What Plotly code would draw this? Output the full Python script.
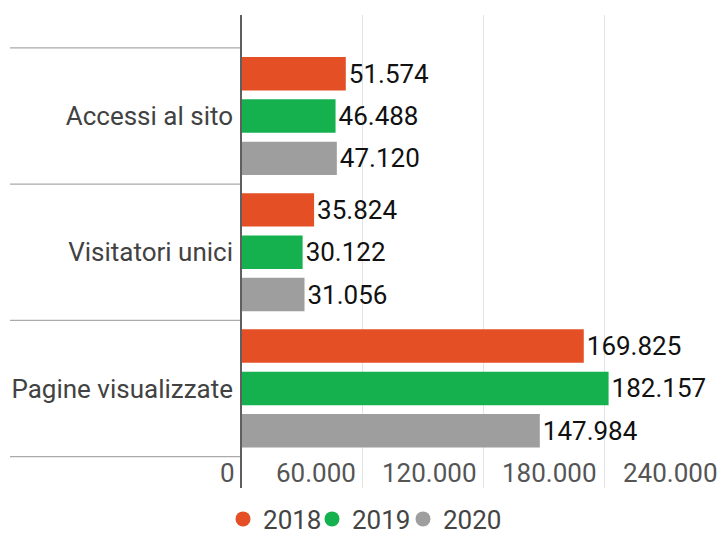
import plotly.graph_objects as go

categories = ["Accessi al sito", "Visitatori unici", "Pagine visualizzate"]
years = ["2018", "2019", "2020"]
values_2018 = [51574, 35824, 169825]
values_2019 = [46488, 30122, 182157]
values_2020 = [47120, 31056, 147984]
tick_values = [0, 60000, 120000, 180000, 240000]
tick_labels = ["0", "60.000", "120.000", "180.000", "240.000"]
colors = ["#E44F26", "#16B14F", "#9E9E9E"]

series = [values_2018, values_2019, values_2020]
FONT = "Roboto"
FS = 26

fig = go.Figure()
for name, vals, col in zip(years, series, colors):
    fig.add_trace(go.Bar(
        y=categories, x=vals, orientation="h", name=name,
        marker=dict(color=col, line=dict(width=0)),
        texttemplate="%{x:,}", textposition="outside",
        textfont=dict(family=FONT, size=FS, color="#111111"),
        constraintext="none", cliponaxis=False, showlegend=False,
        hoverinfo="skip",
    ))

# legend entries with circle markers, one small legend each
legend_ids = ["legend", "legend2", "legend3"]
legend_x = [-0.0393, 0.1449, 0.3333]
for name, col, lid in zip(years, colors, legend_ids):
    fig.add_trace(go.Scatter(
        x=[None], y=[None], mode="markers", name=name,
        marker=dict(color=col, size=15, symbol="circle"),
        showlegend=True, hoverinfo="skip", legend=lid,
    ))

# category separator lines left of the axis
shapes = []
for b in [-0.5, 0.5, 1.5, 2.5]:
    shapes.append(dict(type="line", xref="paper", yref="y",
                       x0=-0.4803, x1=0, y0=b, y1=b,
                       line=dict(color="#AAAAAA", width=1.2), layer="below"))

annotations = []
for v, lab in zip(tick_values, tick_labels):
    annotations.append(dict(x=v, y=0.032, xref="x", yref="paper",
                            text=lab, showarrow=False, xanchor="right",
                            yanchor="middle", xshift=-5,
                            font=dict(family=FONT, size=FS, color="#555555")))

legend_style = dict(orientation="h", xref="paper", yref="paper",
                    xanchor="left", y=-0.0655, yanchor="middle",
                    font=dict(family=FONT, size=FS, color="#444444"),
                    itemwidth=30, tracegroupgap=0,
                    bgcolor="rgba(0,0,0,0)")

layout_legends = {lid: dict(legend_style, x=lx) for lid, lx in zip(legend_ids, legend_x)}

fig.update_layout(
    width=725, height=535,
    margin=dict(l=242, r=0, t=15, b=47, autoexpand=False),
    paper_bgcolor="white", plot_bgcolor="white",
    separators=",.",
    barmode="group", bargap=0.067, bargroupgap=0.21,
    font=dict(family=FONT, size=FS, color="#444444"),
    shapes=shapes, annotations=annotations,
    xaxis=dict(range=[0, 240000], tickvals=[60000, 120000, 180000],
               showticklabels=False, showgrid=True, gridcolor="#E3E3E3",
               gridwidth=1, zeroline=False, showline=False, ticks="",
               automargin=False),
    yaxis=dict(categoryorder="array", categoryarray=categories,
               range=[2.731, -0.7416], showgrid=False, zeroline=False,
               showline=True, linecolor="#5F5F5F", linewidth=1.5,
               ticks="", ticklabelstandoff=2, automargin=False,
               tickfont=dict(family=FONT, size=FS, color="#424242")),
    hovermode=False,
    **layout_legends,
)

fig.write_html("out.html", config={"displayModeBar": False},
               post_script="document.body.style.margin='0px';"
                           "document.body.style.padding='0px';")
